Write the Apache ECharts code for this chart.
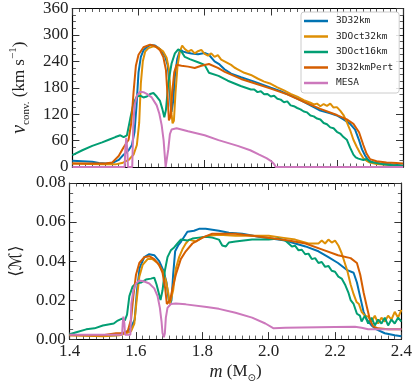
<!DOCTYPE html>
<html>
<head>
<meta charset="utf-8">
<script src="https://cdn.jsdelivr.net/npm/echarts@6/dist/echarts.min.js"></script>
<style>
html, body { margin: 0; padding: 0; background: #fff; }
#chart { width: 415px; height: 384px; }
</style>
</head>
<body>
<div id="chart"></div>
<script>
// series names / colours
const names = ['3D32km', '3DOct32km', '3DOct16km', '3D32kmPert', 'MESA'];
const colors = ['#0173B2', '#DE8F05', '#029E73', '#D55E00', '#CC78BC'];

// top panel: convective velocity (km/s) vs m (Msun)
const vBlue = [[1.40,14],[1.43,13],[1.46,12],[1.48,9],[1.50,8],[1.52,9],[1.54,16],[1.555,28],[1.57,38],[1.58,50],[1.588,80],[1.594,140],[1.60,215],[1.607,250],[1.615,265],[1.625,272],[1.635,277],[1.65,276],[1.665,268],[1.68,252],[1.688,232],[1.693,195],[1.697,140],[1.70,125],[1.705,150],[1.71,205],[1.717,245],[1.726,267],[1.735,262],[1.745,260],[1.76,258],[1.78,256],[1.80,259],[1.813,255],[1.83,240],[1.845,233],[1.86,222],[1.88,212],[1.91,204],[1.95,194],[2.0,180],[2.03,172],[2.06,162],[2.09,152],[2.12,140],[2.15,128],[2.18,122],[2.20,117],[2.22,108],[2.24,98],[2.255,85],[2.267,61],[2.276,40],[2.286,25],[2.296,15],[2.31,10],[2.33,8],[2.36,6],[2.39,4],[2.40,3]];
const vOrange = [[1.40,8],[1.45,7],[1.50,6],[1.53,6],[1.55,9],[1.57,16],[1.585,28],[1.595,50],[1.602,100],[1.607,190],[1.613,240],[1.62,262],[1.63,270],[1.645,274],[1.66,271],[1.675,262],[1.685,248],[1.692,222],[1.697,170],[1.70,120],[1.703,99],[1.707,105],[1.712,170],[1.718,230],[1.725,262],[1.732,276],[1.74,268],[1.75,262],[1.76,266],[1.77,258],[1.78,263],[1.79,266],[1.80,257],[1.81,253],[1.82,258],[1.83,250],[1.84,254],[1.85,244],[1.86,240],[1.87,236],[1.88,232],[1.89,226],[1.90,222],[1.92,214],[1.94,209],[1.96,201],[1.98,194],[2.0,189],[2.02,181],[2.04,174],[2.06,166],[2.08,160],[2.10,152],[2.12,146],[2.13,142],[2.14,144],[2.15,138],[2.16,143],[2.17,139],[2.18,144],[2.19,135],[2.20,136],[2.21,128],[2.22,118],[2.23,102],[2.24,84],[2.25,62],[2.26,46],[2.27,32],[2.28,20],[2.29,14],[2.30,10],[2.32,7],[2.35,5],[2.38,3],[2.40,2]];
const vGreen = [[1.40,27],[1.43,38],[1.46,48],[1.49,56],[1.51,62],[1.53,68],[1.545,72],[1.555,68],[1.565,72],[1.575,110],[1.585,145],[1.595,160],[1.605,162],[1.615,158],[1.625,160],[1.635,166],[1.645,168],[1.655,160],[1.665,150],[1.672,132],[1.678,113],[1.683,130],[1.69,190],[1.70,235],[1.71,258],[1.72,267],[1.73,262],[1.74,250],[1.755,245],[1.78,238],[1.80,232],[1.813,214],[1.842,207],[1.87,196],[1.909,184],[1.94,176],[1.95,176],[1.96,170],[1.97,172],[1.98,165],[1.99,166],[2.0,160],[2.01,162],[2.02,155],[2.03,153],[2.04,147],[2.05,149],[2.06,140],[2.07,138],[2.08,134],[2.09,131],[2.10,126],[2.11,124],[2.12,117],[2.13,115],[2.14,110],[2.15,108],[2.16,100],[2.17,97],[2.18,90],[2.19,88],[2.20,80],[2.21,76],[2.22,68],[2.23,62],[2.24,44],[2.25,28],[2.257,22],[2.265,19],[2.27,22],[2.28,16],[2.29,18],[2.30,12],[2.32,9],[2.34,6],[2.37,4],[2.40,3]];
const vRed = [[1.40,8],[1.45,8],[1.50,8],[1.52,10],[1.54,25],[1.555,45],[1.57,62],[1.578,100],[1.585,170],[1.592,230],[1.60,255],[1.615,272],[1.635,278],[1.65,275],[1.665,265],[1.675,250],[1.683,220],[1.688,160],[1.692,106],[1.697,115],[1.702,170],[1.708,215],[1.715,232],[1.73,230],[1.75,228],[1.77,225],[1.79,230],[1.813,234],[1.84,225],[1.861,216],[1.91,200],[1.96,188],[2.0,178],[2.05,165],[2.10,148],[2.15,132],[2.20,118],[2.23,108],[2.25,98],[2.267,79],[2.28,50],[2.29,30],[2.30,18],[2.32,13],[2.35,10],[2.38,9],[2.40,8]];
const vMesa = [[1.40,0],[1.558,0],[1.560,40],[1.563,66],[1.566,40],[1.568,0],[1.581,0],[1.584,90],[1.588,140],[1.595,162],[1.605,171],[1.615,170],[1.625,166],[1.64,158],[1.655,140],[1.663,121],[1.67,95],[1.676,60],[1.68,20],[1.682,0],[1.688,0],[1.69,40],[1.695,75],[1.70,85],[1.715,88],[1.75,81],[1.80,72],[1.842,61],[1.90,48],[1.938,38],[1.965,28],[1.987,20],[2.0,14],[2.01,7],[2.015,0],[2.40,0]];

// bottom panel: mean Mach number vs m (Msun)
const machBlue = [[1.40,0.0022],[1.45,0.002],[1.50,0.0018],[1.54,0.002],[1.56,0.003],[1.575,0.004],[1.585,0.006],[1.596,0.010],[1.603,0.025],[1.611,0.0365],[1.625,0.042],[1.64,0.0435],[1.655,0.043],[1.67,0.040],[1.683,0.035],[1.692,0.029],[1.698,0.021],[1.703,0.018],[1.707,0.020],[1.712,0.033],[1.718,0.045],[1.727,0.048],[1.736,0.050],[1.755,0.055],[1.775,0.0555],[1.79,0.0565],[1.81,0.0565],[1.83,0.056],[1.85,0.0555],[1.88,0.0545],[1.92,0.054],[1.97,0.0525],[2.007,0.0515],[2.05,0.0505],[2.08,0.049],[2.111,0.0475],[2.15,0.045],[2.18,0.042],[2.209,0.039],[2.235,0.0355],[2.256,0.034],[2.266,0.029],[2.276,0.0215],[2.286,0.014],[2.296,0.010],[2.31,0.007],[2.325,0.005],[2.35,0.003],[2.38,0.002],[2.40,0.0015]];
const machOrange = [[1.40,0.002],[1.50,0.0015],[1.55,0.002],[1.57,0.003],[1.585,0.004],[1.595,0.008],[1.602,0.02],[1.61,0.032],[1.62,0.038],[1.635,0.041],[1.65,0.041],[1.665,0.039],[1.68,0.035],[1.69,0.030],[1.697,0.024],[1.702,0.018],[1.707,0.017],[1.712,0.025],[1.72,0.036],[1.73,0.042],[1.74,0.046],[1.75,0.049],[1.76,0.051],[1.78,0.050],[1.80,0.052],[1.82,0.053],[1.85,0.0535],[1.90,0.053],[1.95,0.053],[2.0,0.053],[2.04,0.052],[2.08,0.051],[2.12,0.049],[2.15,0.049],[2.16,0.0505],[2.17,0.049],[2.18,0.051],[2.19,0.0495],[2.20,0.0505],[2.21,0.048],[2.22,0.044],[2.237,0.035],[2.247,0.028],[2.256,0.023],[2.265,0.019],[2.272,0.018],[2.28,0.014],[2.29,0.012],[2.30,0.0115],[2.31,0.009],[2.32,0.012],[2.33,0.008],[2.34,0.011],[2.35,0.009],[2.36,0.012],[2.37,0.010],[2.38,0.014],[2.39,0.011],[2.40,0.015]];
const machGreen = [[1.40,0.0025],[1.42,0.0035],[1.45,0.005],[1.475,0.0055],[1.50,0.007],[1.533,0.008],[1.545,0.0095],[1.558,0.0105],[1.566,0.0095],[1.573,0.0125],[1.58,0.022],[1.59,0.027],[1.60,0.0285],[1.615,0.029],[1.63,0.0305],[1.645,0.031],[1.655,0.0315],[1.662,0.028],[1.668,0.024],[1.674,0.020],[1.68,0.025],[1.687,0.035],[1.695,0.042],[1.705,0.0455],[1.715,0.047],[1.725,0.049],[1.735,0.051],[1.755,0.0505],[1.77,0.0515],[1.79,0.052],[1.81,0.0525],[1.83,0.052],[1.85,0.051],[1.86,0.048],[1.871,0.0475],[1.88,0.0495],[1.90,0.050],[1.95,0.051],[2.0,0.051],[2.03,0.0515],[2.05,0.0505],[2.06,0.049],[2.07,0.0475],[2.08,0.0478],[2.09,0.0455],[2.10,0.0458],[2.11,0.0435],[2.12,0.0438],[2.13,0.041],[2.14,0.0415],[2.15,0.039],[2.16,0.0395],[2.17,0.037],[2.18,0.0375],[2.19,0.035],[2.20,0.0345],[2.21,0.032],[2.22,0.031],[2.23,0.028],[2.24,0.024],[2.247,0.020],[2.256,0.018],[2.266,0.013],[2.275,0.012],[2.28,0.009],[2.29,0.012],[2.30,0.008],[2.31,0.011],[2.32,0.007],[2.33,0.010],[2.34,0.008],[2.35,0.011],[2.36,0.007],[2.37,0.010],[2.38,0.008],[2.39,0.011],[2.40,0.009]];
const machRed = [[1.40,0.002],[1.50,0.002],[1.54,0.003],[1.56,0.003],[1.575,0.004],[1.585,0.010],[1.592,0.022],[1.60,0.033],[1.61,0.039],[1.625,0.042],[1.64,0.0425],[1.655,0.041],[1.67,0.038],[1.68,0.034],[1.688,0.026],[1.693,0.018],[1.698,0.017],[1.703,0.020],[1.71,0.026],[1.72,0.033],[1.735,0.041],[1.75,0.045],[1.77,0.049],[1.80,0.052],[1.83,0.054],[1.90,0.054],[1.95,0.053],[2.015,0.0515],[2.06,0.0505],[2.111,0.049],[2.16,0.046],[2.209,0.043],[2.247,0.0415],[2.266,0.039],[2.276,0.033],[2.286,0.024],[2.296,0.0165],[2.305,0.010],[2.315,0.0065],[2.33,0.0055],[2.36,0.005],[2.40,0.005]];
const machMesa = [[1.40,0.0022],[1.558,0.0022],[1.560,0.008],[1.562,0.0115],[1.565,0.008],[1.567,0.0022],[1.583,0.0022],[1.586,0.018],[1.592,0.025],[1.60,0.0285],[1.61,0.030],[1.625,0.0295],[1.64,0.0285],[1.655,0.026],[1.665,0.022],[1.672,0.016],[1.677,0.009],[1.68,0.003],[1.684,0.001],[1.687,0.003],[1.69,0.011],[1.695,0.016],[1.705,0.018],[1.72,0.0182],[1.75,0.0178],[1.813,0.0165],[1.85,0.0155],[1.90,0.0135],[1.95,0.011],[1.99,0.008],[2.015,0.0055],[2.05,0.0058],[2.10,0.006],[2.20,0.0062],[2.26,0.0063],[2.28,0.0058],[2.30,0.005],[2.40,0.005]];

const topData = [vBlue, vOrange, vGreen, vRed, vMesa];
const botData = [machBlue, machOrange, machGreen, machRed, machMesa];

const serif = 'Liberation Serif, DejaVu Serif, serif';

function xAx(grid, pos, labels) {
    return {
        type: 'value', gridIndex: grid, position: pos,
        min: 1.4, max: 2.4, interval: 0.2,
        axisLine: { show: true, onZero: false, lineStyle: { color: '#000', width: 1.2 } },
        axisTick: { show: true, inside: true, length: 7, lineStyle: { color: '#333', width: 1 } },
        minorTick: { show: true, splitNumber: 10, length: 3.5, lineStyle: { color: '#333', width: 0.8 } },
        axisLabel: { show: labels, margin: 4, color: '#222', fontFamily: serif, fontSize: 17,
            formatter: v => v.toFixed(1) },
        splitLine: { show: false },
    };
}
function yAx(grid, pos, labels, max, interval, digits) {
    return {
        type: 'value', gridIndex: grid, position: pos,
        min: 0, max: max, interval: interval,
        axisLine: { show: true, onZero: false, lineStyle: { color: '#000', width: 1.2 } },
        axisTick: { show: true, inside: true, length: 7, lineStyle: { color: '#333', width: 1 } },
        minorTick: { show: true, splitNumber: 4, length: 3.5, lineStyle: { color: '#333', width: 0.8 } },
        axisLabel: { show: labels, margin: 4, color: '#222', fontFamily: serif, fontSize: 17,
            formatter: v => v.toFixed(digits) },
        splitLine: { show: false },
    };
}

const xAxes = [xAx(0, 'bottom', false), xAx(0, 'top', false), xAx(1, 'bottom', true), xAx(1, 'top', false)];
xAxes[2].name = '{i|m} (M{s|⊙})';
xAxes[2].nameLocation = 'middle';
xAxes[2].nameGap = 21;
xAxes[2].nameTextStyle = { fontFamily: serif, fontSize: 17, color: '#222', lineHeight: 22,
    rich: { i: { fontStyle: 'italic', fontFamily: serif, fontSize: 18, lineHeight: 22 },
            s: { fontFamily: 'DejaVu Sans', fontSize: 10, verticalAlign: 'bottom', lineHeight: 22 } } };

const yAxes = [yAx(0, 'left', true, 360, 60, 0), yAx(0, 'right', false, 360, 60, 0),
               yAx(1, 'left', true, 0.08, 0.02, 2), yAx(1, 'right', false, 0.08, 0.02, 2)];
yAxes[0].name = '{i|v}{s|conv.} (km s{p|−1})';
yAxes[0].nameLocation = 'middle';
yAxes[0].nameGap = 32;
yAxes[0].nameTextStyle = { fontFamily: serif, fontSize: 17, color: '#222', lineHeight: 24,
    rich: { i: { fontStyle: 'italic', fontFamily: serif, fontSize: 20, lineHeight: 24 },
            s: { fontFamily: serif, fontSize: 11, verticalAlign: 'bottom', lineHeight: 24 },
            p: { fontFamily: serif, fontSize: 11, verticalAlign: 'top', lineHeight: 24 } } };
yAxes[2].name = '⟨ℳ⟩';
yAxes[2].nameLocation = 'middle';
yAxes[2].nameGap = 32;
yAxes[2].nameTextStyle = { fontFamily: 'DejaVu Serif, DejaVu Sans', fontSize: 17, color: '#222' };

const series = [];
names.forEach((n, k) => {
    series.push({ name: n, type: 'line', xAxisIndex: 0, yAxisIndex: 0, data: topData[k],
        showSymbol: false, symbol: 'none', lineStyle: { width: 2, color: colors[k] },
        itemStyle: { color: colors[k] } });
    series.push({ name: n, type: 'line', xAxisIndex: 2, yAxisIndex: 2, data: botData[k],
        showSymbol: false, symbol: 'none', lineStyle: { width: 2, color: colors[k] },
        itemStyle: { color: colors[k] } });
});

const chart = echarts.init(document.getElementById('chart'));
chart.setOption({
    animation: false,
    grid: [
        { left: 57, top: 7, width: 346, height: 160 },
        { left: 57, top: 183, width: 346, height: 160 },
    ],
    legend: {
        orient: 'vertical', left: 301, top: 12,
        padding: [3, 6, 4, 3], itemGap: 3.5, itemWidth: 24, itemHeight: 2.5, icon: 'rect',
        backgroundColor: 'rgba(255,255,255,0.85)', borderColor: '#ccc', borderWidth: 1, borderRadius: 3,
        textStyle: { fontFamily: 'DejaVu Sans Mono', fontSize: 9.5, color: '#222', lineHeight: 12, padding: [0, 0, 0, 3] },
        data: names,
    },
    xAxis: xAxes,
    yAxis: yAxes,
    series: series,
});
</script>
</body>
</html>
